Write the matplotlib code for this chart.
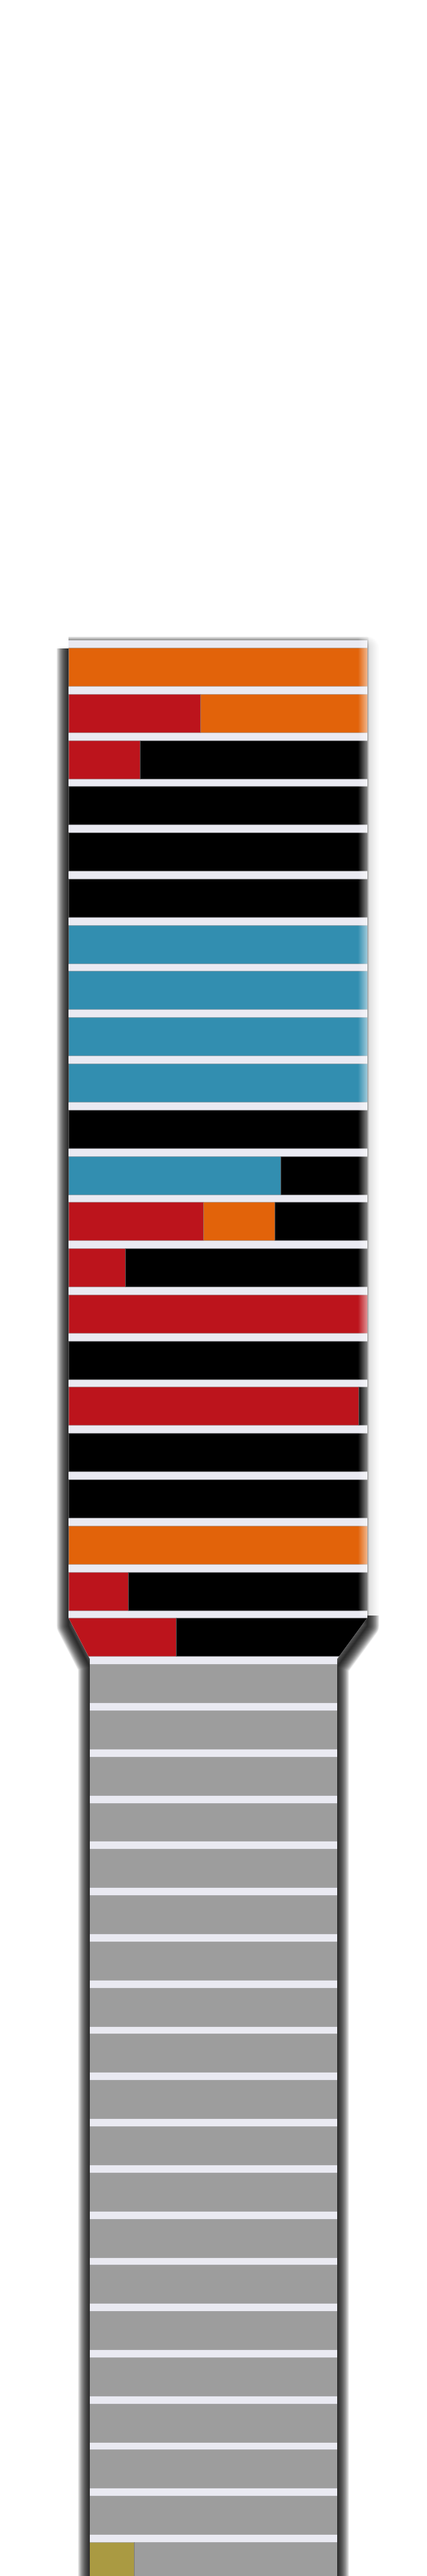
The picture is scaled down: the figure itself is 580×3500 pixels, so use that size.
import numpy as np
import matplotlib.pyplot as plt
from matplotlib.patches import Polygon

# --- data: one stacked bar per row, widths in % of the wide section ---
rows = list(range(42))
olive  = [0, 0, 0, 0, 0, 0, 0, 0, 0, 0, 0, 0, 0, 0, 0, 0, 0, 0, 0, 0, 0,
          0, 0, 0, 0, 0, 0, 0, 0, 0, 0, 0, 0, 0, 0, 0, 0, 0, 0, 0, 0, 22]
red    = [0, 44, 24, 0, 0, 0, 0, 0, 0, 0, 0, 0, 45, 19, 100, 0, 97, 0, 0, 0, 20,
          36, 0, 0, 0, 0, 0, 0, 0, 0, 0, 0, 0, 0, 0, 0, 0, 0, 0, 0, 0, 0]
orange = [100, 56, 0, 0, 0, 0, 0, 0, 0, 0, 0, 0, 24, 0, 0, 0, 0, 0, 0, 100, 0,
          0, 0, 0, 0, 0, 0, 0, 0, 0, 0, 0, 0, 0, 0, 0, 0, 0, 0, 0, 0, 0]
blue   = [0, 0, 0, 0, 0, 0, 100, 100, 100, 100, 0, 71, 0, 0, 0, 0, 0, 0, 0, 0, 0,
          0, 0, 0, 0, 0, 0, 0, 0, 0, 0, 0, 0, 0, 0, 0, 0, 0, 0, 0, 0, 0]
black  = [0, 0, 76, 100, 100, 100, 0, 0, 0, 0, 100, 29, 31, 81, 0, 100, 3, 100, 100, 0, 80,
          64, 0, 0, 0, 0, 0, 0, 0, 0, 0, 0, 0, 0, 0, 0, 0, 0, 0, 0, 0, 0]
grey   = [0, 0, 0, 0, 0, 0, 0, 0, 0, 0, 0, 0, 0, 0, 0, 0, 0, 0, 0, 0, 0,
          0, 100, 100, 100, 100, 100, 100, 100, 100, 100, 100, 100, 100, 100, 100,
          100, 100, 100, 100, 100, 78]

series = [(olive, '#AA9A42'), (red, '#BC141C'), (orange, '#E2630A'),
          (blue, '#328EB0'), (black, '#000000'), (grey, '#9D9D9D')]

# --- layout (pixel geometry of the 580x3500 canvas) ---
W, H = 580, 3500
X0, XW = 93, 406          # wide section: x 93..499 px == 0..100
ROW0, PITCH = 906, 62.78  # centre of row 0, row pitch in px


def px_x(p):
    return (p - X0) / XW * 100


def px_y(p):
    return (p - ROW0) / PITCH


fig = plt.figure(figsize=(W / 100, H / 100), dpi=100)
ax = fig.add_axes([0, 0, 1, 1])
ax.axis('off')

# bottle-like outline: wide top, slanted shoulder, narrow bottom
outline_px = [(93, 870), (499, 870), (499, 2198), (458, 2254), (458, 3700),
              (122, 3700), (122, 2254), (93, 2198)]
outline = [(px_x(a), px_y(b)) for a, b in outline_px]

# soft drop shadow, pushed down a little so the top edge stays light
shadow = [(x, y + 11 / PITCH) for x, y in outline]
for k in range(1, 21):
    ax.add_patch(Polygon(shadow, closed=True, fill=False, edgecolor='black',
                         lw=k * 1.15, alpha=0.08, joinstyle='round', zorder=1))

body = Polygon(outline, closed=True, facecolor='#EAEAF2', edgecolor='none', zorder=2)
ax.add_patch(body)

left = np.zeros(len(rows))
for vals, col in series:
    bars = ax.barh(rows, vals, left=left, height=0.828, color=col,
                   edgecolor='#70707080', linewidth=0.5, zorder=3)
    for b in bars:
        b.set_clip_path(body)
    left += np.array(vals)

# light fade on the right edge of the wide section
xs = np.linspace(486, 518, 64)
alpha = np.interp(xs, [486, 499, 501, 518], [0.0, 0.55, 0.85, 0.97])
fade = np.ones((1, len(xs), 4))
fade[0, :, 3] = alpha
ax.imshow(fade, extent=(px_x(486), px_x(518), px_y(2195), px_y(860)),
          aspect='auto', interpolation='bilinear', zorder=4)
ax.set_xlim(px_x(0), px_x(W))
ax.set_ylim(px_y(H), px_y(0))

fig.savefig('out.png', dpi=100, facecolor='white')
